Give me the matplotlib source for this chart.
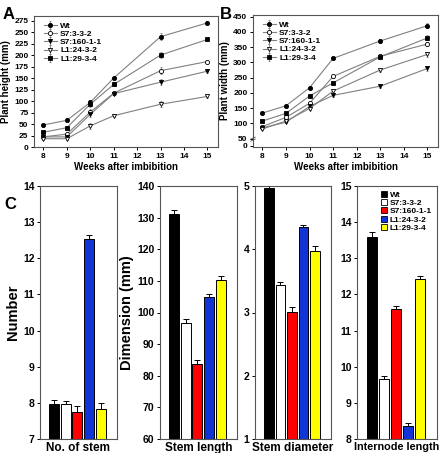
import numpy as np
import matplotlib
matplotlib.use("Agg")
import matplotlib.pyplot as plt

plt.rcParams["font.family"] = ["Liberation Sans", "DejaVu Sans"]
plt.rcParams["font.weight"] = "bold"
plt.rcParams["axes.labelweight"] = "bold"

# ---- data -------------------------------------------------------------
LINES = ["Wt", "S7:3-3-2", "S7:160-1-1", "L1:24-3-2", "L1:29-3-4"]
MARKERS = ["o", "o", "v", "v", "s"]
FACES = ["black", "white", "black", "white", "black"]
WEEKS = [8, 9, 10, 11, 13, 15]

height_wt = [48, 58, 97, 150, 240, 270]
height_s7_332 = [22, 28, 76, 117, 166, 186]
height_s7_160 = [22, 22, 71, 116, 141, 165]
height_l1_24 = [18, 18, 46, 68, 93, 110]
height_l1_29 = [32, 42, 93, 136, 200, 234]
height_err = [2, 2, 6, 3, 7, 4]

width_wt = [134, 158, 217, 313, 370, 420]
width_s7_332 = [90, 120, 166, 254, 320, 360]
width_s7_160 = [86, 104, 156, 192, 222, 280]
width_l1_24 = [82, 108, 149, 206, 275, 326]
width_l1_29 = [108, 133, 190, 233, 318, 380]
width_err = [3, 4, 4, 5, 7, 8]

BAR_COLORS = ["black", "white", "#ff0000", "#1034d6", "#ffff00"]
stem_no = [7.97, 7.98, 7.74, 12.54, 7.83]
stem_no_err = [0.10, 0.07, 0.17, 0.10, 0.17]
stem_len = [131.2, 96.7, 83.8, 105.0, 110.4]
stem_len_err = [1.2, 1.4, 1.1, 0.9, 1.0]
stem_diam = [4.97, 3.43, 3.01, 4.35, 3.98]
stem_diam_err = [0.03, 0.05, 0.08, 0.04, 0.07]
internode = [13.60, 9.65, 11.60, 8.35, 12.42]
internode_err = [0.12, 0.08, 0.07, 0.08, 0.10]

W, H = 440, 453


def rect(l, r, t, b):
    return [l / W, (H - b) / H, (r - l) / W, (b - t) / H]


def style(ax):
    for s in ax.spines.values():
        s.set_color("#555555")
        s.set_linewidth(0.8)
    ax.tick_params(direction="out", length=2.5, width=0.7, labelsize=6, pad=1.5)


def line_panel(ax, series, err, ylabel):
    for name, vals, m, fc in zip(LINES, series, MARKERS, FACES):
        ax.errorbar(WEEKS, vals, yerr=err, color="#808080", lw=0.8,
                    marker=m, ms=3.0, mfc=fc, mec="black", mew=0.6,
                    ecolor="#808080", elinewidth=0.6, capsize=1, label=name)
    ax.set_xlim(7.6, 15.45)
    ax.set_xticks(range(8, 16))
    ax.set_xlabel("Weeks after imbibition", fontsize=7, labelpad=2)
    ax.set_ylabel(ylabel, fontsize=7, labelpad=2)
    style(ax)
    ax.legend(loc="upper left", frameon=False, fontsize=6, handlelength=1.6,
              labelspacing=0.05, borderaxespad=0.3, handletextpad=0.4,
              bbox_to_anchor=(0.02, 1.0))


def bar_panel(ax, vals, err, ylim, ticks, xlabel, ylabel=None, xfs=8.5):
    x = np.arange(len(vals))
    ax.bar(x, vals, width=0.83, color=BAR_COLORS, edgecolor="black", linewidth=0.7,
           yerr=[np.zeros(len(err)), err], capsize=2.2,
           error_kw=dict(elinewidth=0.7, capthick=0.7, ecolor="black"))
    ax.set_xlim(-1.2, 5.4)
    ax.set_ylim(*ylim)
    ax.set_yticks(ticks)
    ax.set_xticks([])
    ax.set_xlabel(xlabel, fontsize=xfs, labelpad=2)
    if ylabel:
        ax.set_ylabel(ylabel, fontsize=10.5, labelpad=2)
    style(ax)
    ax.tick_params(labelsize=7.5)
    return ax


fig = plt.figure(figsize=(W / 100, H / 100), dpi=100)
fig.patch.set_facecolor("white")

# A
axA = fig.add_axes(rect(34, 218, 16, 147))
line_panel(axA, [height_wt, height_s7_332, height_s7_160, height_l1_24, height_l1_29],
           height_err, "Plant height (mm)")
axA.set_ylim(0, 285)
axA.set_yticks(range(0, 276, 25))

# B (broken y axis: 0 drawn just below 50)
axB = fig.add_axes(rect(253, 438, 15, 147))
line_panel(axB, [width_wt, width_s7_332, width_s7_160, width_l1_24, width_l1_29],
           width_err, "Plant width (mm)")
axB.set_ylim(23, 455)
axB.set_yticks([27] + list(range(50, 451, 50)))
axB.set_yticklabels(["0"] + [str(v) for v in range(50, 451, 50)])
for dy in (0.0, 0.015):
    axB.plot([-0.012, 0.012], [0.045 + dy, 0.06 + dy], transform=axB.transAxes,
             color="#555555", lw=0.6, clip_on=False)

fig.text(0.005, 0.985, "A", fontsize=12, fontweight="bold", va="top")
fig.text(0.5, 0.985, "B", fontsize=12, fontweight="bold", va="top")
fig.text(0.01, 0.565, "C", fontsize=12, fontweight="bold", va="top")

# C
c1 = fig.add_axes(rect(40, 117, 186, 439))
bar_panel(c1, stem_no, stem_no_err, (7, 14), range(7, 15), "No. of stem", "Number")
c2 = fig.add_axes(rect(160, 237, 186, 439))
bar_panel(c2, stem_len, stem_len_err, (60, 140), range(60, 141, 10), "Stem length",
          "Dimension (mm)")
c3 = fig.add_axes(rect(255, 331, 186, 439))
bar_panel(c3, stem_diam, stem_diam_err, (1, 5), range(1, 6), "Stem diameter")
c4 = fig.add_axes(rect(357, 437, 186, 439))
bar_panel(c4, internode, internode_err, (8, 15), range(8, 16), "Internode length",
          xfs=7.8)

handles = [plt.Line2D([], [], ls="none", marker="s", ms=4, mfc=c, mec="black", mew=0.6)
           for c in BAR_COLORS]
c4.legend(handles, LINES, loc="upper right", frameon=False, fontsize=6,
          handlelength=0.8, labelspacing=0.05, borderaxespad=0.2, handletextpad=0.3)

fig.savefig("out.png", dpi=100, facecolor="white")
